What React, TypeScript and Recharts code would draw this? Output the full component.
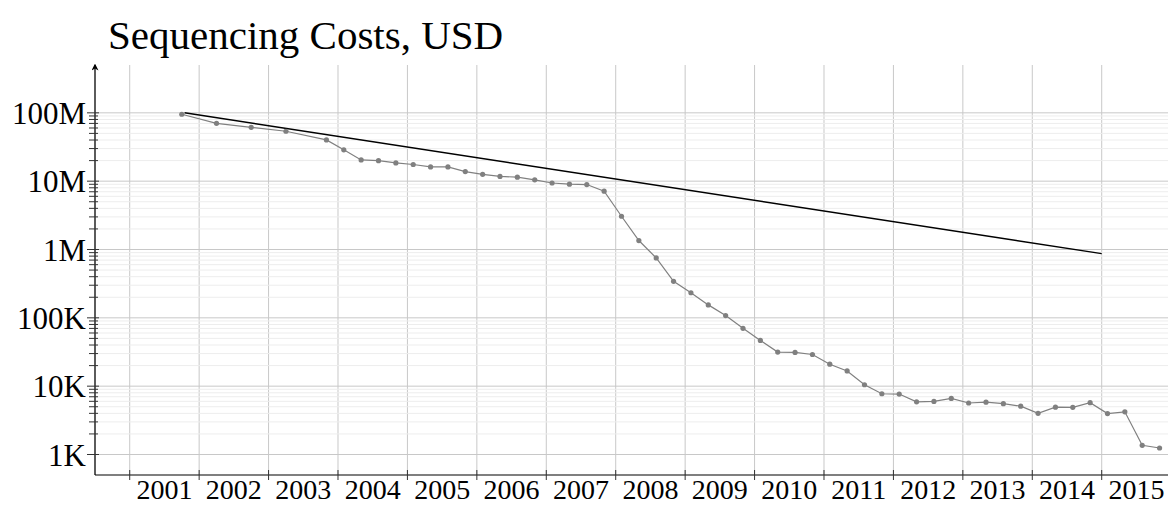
import { CartesianGrid, Line, LineChart, ReferenceLine, XAxis, YAxis } from 'recharts';

// NHGRI cost per genome, end of quarter
const dates = [
  '2001-09', '2002-03', '2002-09', '2003-03', '2003-10', '2004-01', '2004-04', '2004-07', '2004-10',
  '2005-01', '2005-04', '2005-07', '2005-10', '2006-01', '2006-04', '2006-07', '2006-10',
  '2007-01', '2007-04', '2007-07', '2007-10', '2008-01', '2008-04', '2008-07', '2008-10',
  '2009-01', '2009-04', '2009-07', '2009-10', '2010-01', '2010-04', '2010-07', '2010-10',
  '2011-01', '2011-04', '2011-07', '2011-10', '2012-01', '2012-04', '2012-07', '2012-10',
  '2013-01', '2013-04', '2013-07', '2013-10', '2014-01', '2014-04', '2014-07', '2014-10',
  '2015-01', '2015-04', '2015-07', '2015-10',
];
const costs = [
  95263072, 70175437, 61448422, 53751684, 40153255, 28780376, 20442576, 19934346, 18519312,
  17534970, 16159699, 16180224, 13801124, 12585659, 11732535, 11455315, 10474556,
  9408739, 9047003, 8927342, 7147571, 3063820, 1352982, 752080, 342502,
  232735, 154714, 108065, 70333, 46774, 31512, 31125, 29092,
  20963, 16712, 10497, 7743, 7666, 5901, 5985, 6618,
  5671, 5826, 5550, 5096, 4008, 4920, 4905, 5731,
  3970, 4211, 1363, 1245,
];

// straight reference line (Moore's law)
const mooreYears = [2001.79, 2015];
const mooreCosts = [100000000, 870000];

const years = [2001, 2002, 2003, 2004, 2005, 2006, 2007, 2008, 2009, 2010, 2011, 2012, 2013, 2014, 2015];
const yMajor = [1e3, 1e4, 1e5, 1e6, 1e7, 1e8];
const yMajorLabels = ['1K', '10K', '100K', '1M', '10M', '100M'];
const minorSteps = [2, 3, 4, 5, 6, 7, 8, 9];

const yMinor = yMajor.slice(0, -1).flatMap((d) => minorSteps.map((m) => d * m));

const toYear = (s: string) => Number(s.slice(0, 4)) + Number(s.slice(5, 7)) / 12;
const costData = dates.map((d, i) => ({ x: toYear(d), y: costs[i] }));
const mooreData = mooreYears.map((x, i) => ({ x, y: mooreCosts[i] }));

const W = 1168;
const H = 498;
const Y_AXIS_W = 87;
const X_AXIS_H = 31;
const TOP = 57;
const X_MIN = 2000.5;
const X_MAX = 2016.07;
const Y_MIN = Math.pow(10, 2.7);
const Y_MAX = Math.pow(10, 8.7);
const HALF_YEAR = (W - Y_AXIS_W) / (X_MAX - X_MIN) / 2;

const FONT = "'Liberation Serif', 'DejaVu Serif', serif";
const GRID = '#c8c8c8';

const XTick = ({ x, y, payload }: any) => (
  <g>
    <line x1={x} x2={x} y1={y - 9} y2={y + 1} stroke='#333' />
    <text x={x + HALF_YEAR} y={y} dy='0.71em' textAnchor='middle' fontFamily={FONT} fontSize={28} fill='#000'>
      {payload.value}
    </text>
  </g>
);

const YTick = ({ x, y, payload }: any) => {
  const idx = yMajor.indexOf(payload.value);
  const major = idx >= 0;
  return (
    <g>
      <line x1={x + (major ? 1 : 3)} x2={x + (major ? 13 : 12)} y1={y} y2={y} stroke='#333' />
      {major && (
        <text x={x} y={y} dy='0.355em' textAnchor='end' fontFamily={FONT} fontSize={31} fill='#000'>
          {yMajorLabels[idx]}
        </text>
      )}
    </g>
  );
};

const App = () => {
  return (
    <div style={{ position: 'relative', width: W, height: H }}>
      <svg width={0} height={0} style={{ position: 'absolute' }}>
        <defs>
          <marker
            id='yArrow'
            viewBox='0 0 10 10'
            refX='8'
            refY='5'
            markerWidth='7'
            markerHeight='7'
            markerUnits='userSpaceOnUse'
            orient='auto-start-reverse'
          >
            <path d='M0,0 L10,5 L0,10 L3,5 z' fill='#000' />
          </marker>
        </defs>
      </svg>
      <div
        style={{
          position: 'absolute',
          left: 100,
          top: 7,
          fontFamily: FONT,
          fontSize: 41,
          lineHeight: 1,
          color: '#000',
          whiteSpace: 'nowrap',
        }}
      >
        Sequencing Costs, USD
      </div>
      <LineChart width={W} height={H} margin={{ top: TOP, right: 0, bottom: 0, left: 0 }}>
        <CartesianGrid horizontal={false} stroke={GRID} />
        <XAxis
          type='number'
          dataKey='x'
          domain={[X_MIN, X_MAX]}
          allowDataOverflow
          ticks={years}
          interval={0}
          height={X_AXIS_H}
          tickSize={0}
          tickMargin={4}
          tickLine={false}
          axisLine={{ stroke: '#000', strokeWidth: 1.2 }}
          tick={<XTick />}
        />
        <YAxis
          type='number'
          scale='log'
          domain={[Y_MIN, Y_MAX]}
          allowDataOverflow
          ticks={[...yMajor, ...yMinor]}
          interval={0}
          width={Y_AXIS_W}
          tickSize={0}
          tickMargin={9}
          tickLine={false}
          axisLine={{ stroke: '#000', strokeWidth: 1.2, markerStart: 'url(#yArrow)' }}
          tick={<YTick />}
        />
        {yMinor.map((v) => (
          <ReferenceLine key={'mi' + v} y={v} stroke='#ededed' strokeWidth={1} />
        ))}
        {yMajor.map((v) => (
          <ReferenceLine key={'ma' + v} y={v} stroke={GRID} strokeWidth={1} />
        ))}
        <Line
          data={mooreData}
          dataKey='y'
          type='linear'
          stroke='#000'
          strokeWidth={1.5}
          dot={false}
          activeDot={false}
          isAnimationActive={false}
        />
        <Line
          data={costData}
          dataKey='y'
          type='linear'
          stroke='#808080'
          strokeWidth={1.2}
          dot={{ r: 2.6, fill: '#808080', stroke: 'none' }}
          activeDot={false}
          isAnimationActive={false}
        />
      </LineChart>
    </div>
  );
};

export default App;
